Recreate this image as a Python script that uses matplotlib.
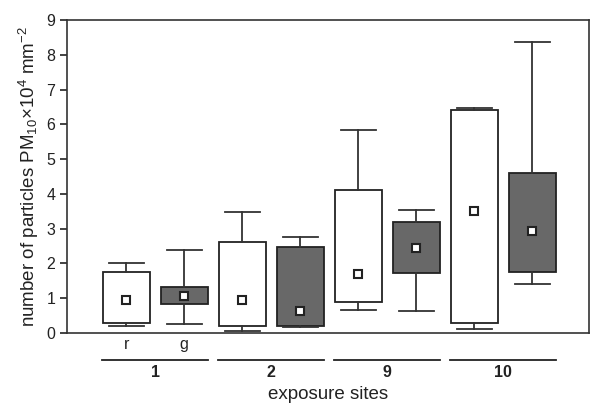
import numpy as np
import matplotlib.pyplot as plt
import matplotlib.transforms as mtransforms

plt.rcParams['font.family'] = ['Liberation Sans', 'DejaVu Sans']
plt.rcParams['mathtext.fontset'] = 'custom'
plt.rcParams['mathtext.rm'] = 'Liberation Sans'
plt.rcParams['mathtext.it'] = 'Liberation Sans:italic'

# values (x10^4 particles per mm^2)
sites = ['1', '2', '9', '10']
kinds = ['r', 'g']
whis_lo = [0.20, 0.27, 0.06, 0.16, 0.66, 0.62, 0.12, 1.42]
q1 = [0.30, 0.84, 0.20, 0.21, 0.90, 1.72, 0.30, 1.74]
q3 = [1.74, 1.32, 2.61, 2.47, 4.12, 3.18, 6.42, 4.60]
whis_hi = [2.02, 2.40, 3.49, 2.77, 5.85, 3.53, 6.47, 8.38]
means = [0.95, 1.07, 0.95, 0.63, 1.69, 2.45, 3.52, 2.93]

stats = []
for i in range(len(q1)):
    stats.append(dict(whislo=whis_lo[i], q1=q1[i], med=q1[i], q3=q3[i],
                      whishi=whis_hi[i], mean=means[i], fliers=[]))

fig = plt.figure(figsize=(5.9, 4.04), dpi=100)
ax = fig.add_axes([67/590, 71/404, 522/590, 313/404])

pos = np.arange(1, len(stats) + 1)
bp = ax.bxp(stats, positions=pos, widths=0.81, capwidths=0.6,
            patch_artist=True, showmeans=True,
            boxprops=dict(linewidth=1.3, edgecolor='#222222'),
            whiskerprops=dict(linewidth=1.3, color='#333333'),
            capprops=dict(linewidth=1.3, color='#333333'),
            medianprops=dict(visible=False),
            meanprops=dict(marker='s', markerfacecolor='white',
                           markeredgecolor='#222222', markersize=6,
                           markeredgewidth=1.5))
for i, b in enumerate(bp['boxes']):
    b.set_facecolor('white' if i % 2 == 0 else '#686868')

ax.set_xlim(-0.02, 8.98)
ax.set_ylim(0, 9)
ax.set_yticks(range(10))
ax.set_xticks([])
ax.tick_params(axis='y', direction='out', length=5, width=1.2, labelsize=11.5,
               colors='#222222')
for s in ax.spines.values():
    s.set_linewidth(1.2)
    s.set_color('#333333')

ax.set_ylabel('number of particles PM$_{10}$×10$^4$ mm$^{-2}$', fontsize=13.5,
              color='#222222', labelpad=4)

trans = mtransforms.blended_transform_factory(ax.transData, ax.transAxes)
# r / g labels under the first site
for k, lab in enumerate(kinds):
    ax.text(pos[k], -0.037, lab, transform=trans, ha='center', va='center',
            fontsize=11.5, color='#222222')
# group lines and site labels
for g, site in enumerate(sites):
    x0 = pos[2 * g] - 0.41
    x1 = pos[2 * g + 1] + 0.41
    ax.plot([x0, x1], [-0.086, -0.086], transform=trans, color='#222222',
            lw=1.3, clip_on=False)
    ax.text((x0 + x1) / 2, -0.125, site, transform=trans, ha='center',
            va='center', fontsize=11.5, fontweight='bold', color='#222222')

ax.text(0.5, -0.196, 'exposure sites', transform=ax.transAxes, ha='center',
        va='center', fontsize=13.5, color='#222222')

fig.savefig('out.png', dpi=100)
